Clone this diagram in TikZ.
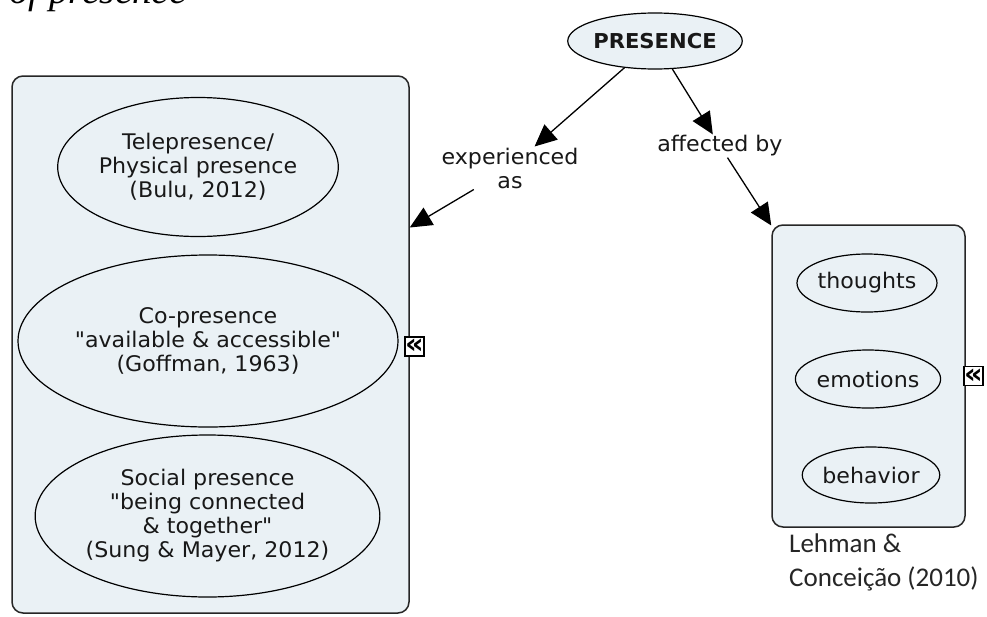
\documentclass[tikz,border=0pt]{standalone}
\usepackage{fontspec}
\newfontfamily\cmfont{DejaVu Sans}[FakeStretch=1.03]
\newfontfamily\capfont{Carlito}
\newfontfamily\serifit{Liberation Serif}
\usetikzlibrary{arrows.meta,shapes.geometric}
\definecolor{cmfill}{RGB}{234,241,245}
\definecolor{cmtext}{RGB}{24,24,24}
\tikzset{
  cmtxt/.style={font=\cmfont\fontsize{21.5}{24}\selectfont, text=cmtext},
  concept/.style={ellipse, draw=black, line width=1.2pt, fill=cmfill, inner sep=0pt, align=center, cmtxt},
  groupbox/.style={rectangle, rounded corners=11pt, draw=black!85, line width=1.5pt, fill=cmfill, inner sep=0pt},
  linklab/.style={cmtxt, align=center, inner sep=1pt},
  arr/.style={-{Triangle[length=22pt,width=20pt]}, line width=1.3pt},
  marker/.style={rectangle, draw=black, fill=white, line width=1.3pt, minimum width=19pt, minimum height=19pt, inner sep=0pt, font=\cmfont\bfseries\fontsize{28}{28}\selectfont}
}
\begin{document}
\begin{tikzpicture}[x=1pt,y=-1pt]
\useasboundingbox (0,0) rectangle (987,616);
\clip (0,0) rectangle (987,616);
\fill[white] (0,0) rectangle (987,616);

% caption fragment at top
\node[font=\serifit\itshape\fontsize{39}{39}\selectfont, anchor=base west, inner sep=0pt] (cap) at (9,3) {of presence};

% group boxes
\node[groupbox, minimum width=397pt, minimum height=537pt] (lbox) at (210.5,344.5) {};
\node[groupbox, minimum width=193pt, minimum height=302pt] (rbox) at (868.5,376) {};

% left concepts
\node[concept, minimum width=271pt, minimum height=139pt] (tele) at (198,167) {Telepresence/\\Physical presence\\(Bulu, 2012)};
\node[concept, minimum width=380pt, minimum height=172pt] (copres) at (208,341) {Co-presence\\"available \& accessible"\\(Goffman, 1963)};
\node[concept, minimum width=341pt, minimum height=162pt] (social) at (207.5,516) {Social presence\\"being connected\\ \& together"\\(Sung \& Mayer, 2012)};

% right concepts
\node[concept, minimum width=140pt, minimum height=58pt] (thoughts) at (867,283) {thoughts};
\node[concept, minimum width=142pt, minimum height=58pt] (emotions) at (868,379) {emotions};
\node[concept, minimum width=136pt, minimum height=56pt] (behavior) at (871,475) {behavior};

% expand markers
\node[marker] (lmark) at (414.5,346.5) {«};
\node[marker] (rmark) at (973.5,376) {«};

% root concept
\node[concept, font=\cmfont\bfseries\fontsize{20.5}{22}\selectfont, minimum width=166pt, minimum height=56pt] (pres) at (655,41) {PRESENCE};

% linking phrases
\node[linklab] (exp) at (510,168) {experienced\\as};
\node[linklab] (aff) at (720,146) {affected by};

% connectors
\draw[arr] (pres) -- (exp);
\draw[arr] (exp) -- (lbox);
\draw[arr] (pres) -- (aff);
\draw[arr] (aff) -- (rbox);

% citation
\node[font=\capfont\fontsize{27}{34}\selectfont, text=black!85, align=left, anchor=north west, inner sep=0pt] (cite) at (789,534) {Lehman \&\\Conceição (2010)};
\end{tikzpicture}
\end{document}
